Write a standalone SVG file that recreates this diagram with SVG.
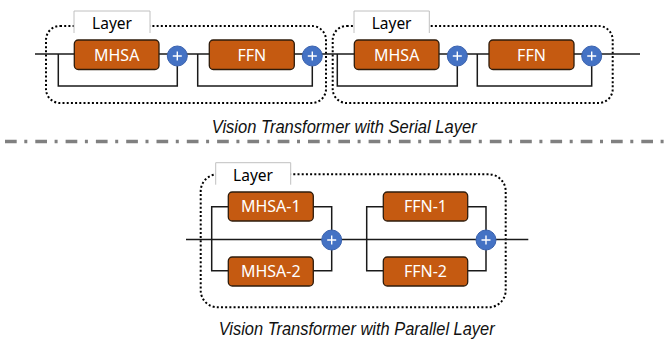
<svg xmlns="http://www.w3.org/2000/svg" width="669" height="339" viewBox="0 0 669 339">
<defs>
<style>
.frame{fill:none;stroke:#000;stroke-width:2;stroke-dasharray:2 2.2}
.lbl{fill:#fff;stroke:none}
.lblb{fill:none;stroke:#c0c0c0;stroke-width:1}
.lt{font-family:"Noto Sans","DejaVu Sans",sans-serif;font-size:15.5px;fill:#000;text-anchor:middle}
.blk{fill:#C55A11;stroke:#2e1c0c;stroke-width:1.3}
.bt{font-family:"Noto Sans","DejaVu Sans",sans-serif;font-size:16px;fill:#fff;text-anchor:middle}
.sum{fill:#4472C4;stroke:#3a62ae;stroke-width:1}
.plus{stroke:#fff;stroke-width:1.4;fill:none}
.wire{fill:none;stroke:#1a1a1a;stroke-width:1.5}
.cap{font-family:"Liberation Sans",Arial,sans-serif;font-style:italic;font-size:17.5px;fill:#111;text-anchor:middle}
.sep{fill:none;stroke:#808080;stroke-width:3.3;stroke-dasharray:11.7 7.6 3 8}
</style>
<g id="sumsym"><circle class="sum" r="10"/><path class="plus" d="M-4.5,0H4.5M0,-4.5V4.5"/></g>
</defs>

<!-- frames -->
<g id="serial-layer-1">
<rect class="frame" x="46" y="26" width="280" height="77" rx="14"/>
<rect class="lbl" x="74" y="11" width="76" height="22"/>
<path class="lblb" d="M74,33V11H150V33"/>
<text class="lt" x="112" y="29">Layer</text>
</g>
<g id="serial-layer-2">
<rect class="frame" x="332.7" y="26" width="280" height="77" rx="14"/>
<rect class="lbl" x="354" y="11" width="75.3" height="22"/>
<path class="lblb" d="M354,33V11H429.3V33"/>
<text class="lt" x="391.6" y="29">Layer</text>
</g>
<g id="parallel-layer">
<rect class="frame" x="200.7" y="174.3" width="305" height="133" rx="17"/>
<rect class="lbl" x="215.7" y="162.7" width="75" height="22"/>
<path class="lblb" d="M215.7,184.7V162.7H290.7V184.7"/>
<text class="lt" x="253" y="180.5">Layer</text>
</g>

<!-- connectors -->
<g id="connectors">
<path class="wire" d="M35,54H640"/>
<path class="wire" d="M58.3,54V86H177.3V66"/>
<path class="wire" d="M197.7,54V86H312.3V66"/>
<path class="wire" d="M337.3,54V86H457.3V66"/>
<path class="wire" d="M477.3,54V86H591.7V66"/>
<path class="wire" d="M186,239.5H528.3"/>
<path class="wire" d="M228.3,206.7H211.7V270.7H228.3"/>
<path class="wire" d="M313.3,206.7H331.7V270.7H313.3"/>
<path class="wire" d="M383.3,206.7H366.7V270.7H383.3"/>
<path class="wire" d="M467.7,206.7H486V270.7H467.7"/>
</g>

<!-- serial nodes -->
<g id="s-mhsa-1"><rect class="blk" x="74.3" y="40" width="84.7" height="29.5" rx="4"/><text class="bt" x="116.7" y="60.8">MHSA</text></g>
<g id="s-sum-1"><use href="#sumsym" x="177.3" y="56"/></g>
<g id="s-ffn-1"><rect class="blk" x="209.3" y="40" width="85" height="29.5" rx="4"/><text class="bt" x="251.8" y="60.8">FFN</text></g>
<g id="s-sum-2"><use href="#sumsym" x="312.3" y="56"/></g>
<g id="s-mhsa-2"><rect class="blk" x="354.3" y="40" width="84.7" height="29.5" rx="4"/><text class="bt" x="396.7" y="60.8">MHSA</text></g>
<g id="s-sum-3"><use href="#sumsym" x="457.3" y="56"/></g>
<g id="s-ffn-2"><rect class="blk" x="489" y="40" width="85" height="29.5" rx="4"/><text class="bt" x="531.5" y="60.8">FFN</text></g>
<g id="s-sum-4"><use href="#sumsym" x="591.7" y="56"/></g>

<text class="cap" x="344.2" y="132.7" textLength="265" lengthAdjust="spacingAndGlyphs">Vision Transformer with Serial Layer</text>

<path class="sep" d="M5,141.5H664"/>

<!-- parallel nodes -->
<g id="p-mhsa-1"><rect class="blk" x="228.3" y="192" width="85" height="29" rx="4"/><text class="bt" x="270.8" y="212.3">MHSA-1</text></g>
<g id="p-mhsa-2"><rect class="blk" x="228.3" y="257" width="85" height="29" rx="4"/><text class="bt" x="270.8" y="277.3">MHSA-2</text></g>
<g id="p-sum-1"><use href="#sumsym" x="331.7" y="240"/></g>
<g id="p-ffn-1"><rect class="blk" x="383.3" y="192" width="84.4" height="29" rx="4"/><text class="bt" x="425.5" y="212.3">FFN-1</text></g>
<g id="p-ffn-2"><rect class="blk" x="383.3" y="257" width="84.4" height="29" rx="4"/><text class="bt" x="425.5" y="277.3">FFN-2</text></g>
<g id="p-sum-2"><use href="#sumsym" x="486" y="240"/></g>

<text class="cap" x="356.7" y="335" textLength="276" lengthAdjust="spacingAndGlyphs">Vision Transformer with Parallel Layer</text>
</svg>
